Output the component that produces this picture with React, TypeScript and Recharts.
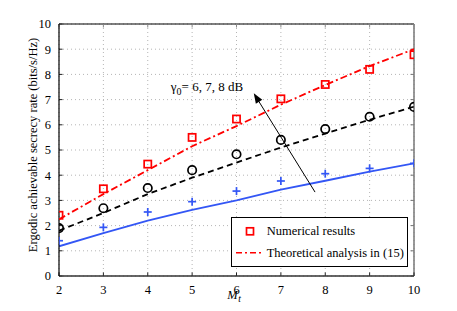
import React from 'react';
import {
  ComposedChart,
  Line,
  XAxis,
  YAxis,
  CartesianGrid,
  Legend,
  ReferenceLine,
  ReferenceDot,
  Customized,
} from 'recharts';

const mtValues = [2, 3, 4, 5, 6, 7, 8, 9, 10];
const numerical8dB = [2.41, 3.46, 4.44, 5.5, 6.23, 7.03, 7.6, 8.2, 8.78];
const theory8dB = [2.25, 3.25, 4.2, 5.15, 5.95, 6.8, 7.58, 8.33, 9.0];
const numerical7dB = [1.9, 2.69, 3.49, 4.2, 4.83, 5.4, 5.83, 6.32, 6.71];
const theory7dB = [1.8, 2.5, 3.25, 3.9, 4.5, 5.1, 5.65, 6.2, 6.72];
const numerical6dB = [1.4, 1.93, 2.54, 2.95, 3.37, 3.77, 4.06, 4.27, 4.47];
const theory6dB = [1.18, 1.7, 2.2, 2.62, 3.0, 3.43, 3.78, 4.14, 4.47];
const xTicks = [2, 3, 4, 5, 6, 7, 8, 9, 10];
const yTicks = [0, 1, 2, 3, 4, 5, 6, 7, 8, 9, 10];
const arrowSegment = [
  { x: 7.77, y: 3.33 },
  { x: 6.39, y: 7.25 },
];
const annotationAnchor = { x: 4.52, y: 7.5 };

const data = mtValues.map((m, i) => ({
  m,
  n8: numerical8dB[i],
  t8: theory8dB[i],
  n7: numerical7dB[i],
  t7: theory7dB[i],
  n6: numerical6dB[i],
  t6: theory6dB[i],
}));

const FONT = '"Liberation Serif", "Times New Roman", serif';
const RED = '#ff0000';
const BLUE = '#3356f5';
const BLACK = '#000000';
const TICK_LEN = 3.5;

const squareDot = (p: any) => {
  if (p.cx == null || p.cy == null) return <g key={p.index} />;
  return (
    <rect
      key={p.index}
      x={p.cx - 3.6}
      y={p.cy - 3.6}
      width={7.2}
      height={7.2}
      fill="none"
      stroke={RED}
      strokeWidth={1.7}
    />
  );
};

const circleDot = (p: any) => {
  if (p.cx == null || p.cy == null) return <g key={p.index} />;
  return (
    <circle key={p.index} cx={p.cx} cy={p.cy} r={4.2} fill="none" stroke={BLACK} strokeWidth={1.7} />
  );
};

const plusDot = (p: any) => {
  if (p.cx == null || p.cy == null) return <g key={p.index} />;
  const s = 4;
  return (
    <g key={p.index}>
      <line x1={p.cx - s} y1={p.cy} x2={p.cx + s} y2={p.cy} stroke={BLUE} strokeWidth={1.7} />
      <line x1={p.cx} y1={p.cy - s} x2={p.cx} y2={p.cy + s} stroke={BLUE} strokeWidth={1.7} />
    </g>
  );
};

const bad = (p: any) => [p.x1, p.y1, p.x2, p.y2].some((v) => v == null || isNaN(v));

// inward tick marks at both ends of a horizontal reference line (left & right frame)
const yTickShape = (p: any) => {
  if (bad(p)) return <g />;
  const left = Math.min(p.x1, p.x2);
  const right = Math.max(p.x1, p.x2);
  return (
    <g>
      <line x1={left} y1={p.y1} x2={left + TICK_LEN} y2={p.y1} stroke="#222" strokeWidth={1} />
      <line x1={right - TICK_LEN} y1={p.y1} x2={right} y2={p.y1} stroke="#777" strokeWidth={1} />
    </g>
  );
};

// inward tick marks at both ends of a vertical reference line (bottom & top frame)
const xTickShape = (p: any) => {
  if (bad(p)) return <g />;
  const top = Math.min(p.y1, p.y2);
  const bottom = Math.max(p.y1, p.y2);
  return (
    <g>
      <line x1={p.x1} y1={bottom} x2={p.x1} y2={bottom - TICK_LEN} stroke="#222" strokeWidth={1} />
      <line x1={p.x1} y1={top} x2={p.x1} y2={top + TICK_LEN} stroke="#888" strokeWidth={1} />
    </g>
  );
};

const arrowShape = (p: any) => {
  if (bad(p)) return <g />;
  const { x1, y1, x2, y2 } = p;
  const dx = x2 - x1;
  const dy = y2 - y1;
  const len = Math.sqrt(dx * dx + dy * dy) || 1;
  const ux = dx / len;
  const uy = dy / len;
  const hl = 10;
  const hw = 3.8;
  const bx = x2 - ux * hl;
  const by = y2 - uy * hl;
  const pts = `${x2},${y2} ${bx - uy * hw},${by + ux * hw} ${bx + uy * hw},${by - ux * hw}`;
  return (
    <g>
      <line x1={x1} y1={y1} x2={bx + ux * 2} y2={by + uy * 2} stroke="#000" strokeWidth={1} />
      <polygon points={pts} fill="#000" />
    </g>
  );
};

const annotationShape = (p: any) => {
  if (p.cx == null || p.cy == null) return <g />;
  return (
    <text x={p.cx} y={p.cy} dy={4} fontFamily={FONT} fontSize={13} fill="#000">
      <tspan>γ</tspan>
      <tspan fontSize={10} dy={4}>0</tspan>
      <tspan dy={-4}>= 6, 7, 8 dB</tspan>
    </text>
  );
};

const AxisTitles = () => {
  const cx = 33;
  const cy = 145;
  return (
    <g>
      <text
        x={cx}
        y={cy}
        transform={`rotate(-90, ${cx}, ${cy})`}
        textAnchor="middle"
        dominantBaseline="central"
        fontFamily={FONT}
        fontSize={12.5}
        fill="#000"
      >
        Ergodic achievable secrecy rate (bits/s/Hz)
      </text>
      <text x={234} y={298.5} textAnchor="middle" fontFamily={FONT} fontSize={12.5} fontStyle="italic" fill="#000">
        <tspan>M</tspan>
        <tspan fontSize={9.5} dx={0.5} dy={3}>t</tspan>
      </text>
    </g>
  );
};

const LegendBox = () => (
  <svg width={177} height={50} style={{ display: 'block' }}>
    <rect x={0.5} y={0.5} width={176} height={49} fill="#fff" stroke="#000" strokeWidth={1} />
    <rect x={15.5} y={10.8} width={7} height={7} fill="none" stroke={RED} strokeWidth={1.7} />
    <text x={35.7} y={14.3} dominantBaseline="central" fontFamily={FONT} fontSize={12.5} fill="#000">
      Numerical results
    </text>
    <line x1={5} y1={35.7} x2={31.3} y2={35.7} stroke={RED} strokeWidth={1.6} strokeDasharray="6 3 2 3" />
    <text x={35.7} y={35.7} dominantBaseline="central" fontFamily={FONT} fontSize={12.5} fill="#000">
      Theoretical analysis in (15)
    </text>
  </svg>
);

export default function App() {
  return (
    <div style={{ position: 'absolute', left: 0, top: 0, width: 457, height: 311, background: '#fff' }}>
      <ComposedChart
        width={457}
        height={311}
        data={data}
        margin={{ top: 24, right: 43, bottom: 0, left: 0 }}
      >
        <CartesianGrid stroke="#b5b5b5" strokeDasharray="1 3" horizontal vertical />
        <XAxis
          dataKey="m"
          type="number"
          domain={[2, 10]}
          ticks={xTicks}
          allowDataOverflow
          height={35}
          tickLine={false}
          axisLine={{ stroke: '#333', strokeWidth: 1.3 }}
          tick={{ fontFamily: FONT, fontSize: 12.5, fill: '#000' }}
          tickMargin={3}
        />
        <YAxis
          type="number"
          domain={[0, 10]}
          ticks={yTicks}
          allowDataOverflow
          width={59}
          tickLine={false}
          axisLine={{ stroke: '#000', strokeWidth: 1.2 }}
          tick={{ fontFamily: FONT, fontSize: 12.5, fill: '#000' }}
          tickMargin={2}
        />
        <ReferenceLine y={10} stroke="#000" strokeWidth={1.2} />
        <ReferenceLine x={10} stroke="#777" strokeWidth={1.5} />
        {yTicks.map((t) => (
          <ReferenceLine key={`yt${t}`} y={t} shape={yTickShape} />
        ))}
        {xTicks.map((t) => (
          <ReferenceLine key={`xt${t}`} x={t} shape={xTickShape} />
        ))}

        <Line
          type="linear"
          dataKey="t8"
          stroke={RED}
          strokeWidth={1.8}
          strokeDasharray="7 3 2 3"
          dot={false}
          activeDot={false}
          isAnimationActive={false}
        />
        <Line
          type="linear"
          dataKey="t7"
          stroke={BLACK}
          strokeWidth={1.8}
          strokeDasharray="6 4"
          dot={false}
          activeDot={false}
          isAnimationActive={false}
        />
        <Line
          type="linear"
          dataKey="t6"
          stroke={BLUE}
          strokeWidth={1.8}
          dot={false}
          activeDot={false}
          isAnimationActive={false}
        />
        <Line
          dataKey="n8"
          stroke="none"
          strokeWidth={0}
          dot={squareDot}
          activeDot={false}
          isAnimationActive={false}
        />
        <Line
          dataKey="n7"
          stroke="none"
          strokeWidth={0}
          dot={circleDot}
          activeDot={false}
          isAnimationActive={false}
        />
        <Line
          dataKey="n6"
          stroke="none"
          strokeWidth={0}
          dot={plusDot}
          activeDot={false}
          isAnimationActive={false}
        />

        <ReferenceLine segment={arrowSegment} shape={arrowShape} ifOverflow="visible" />
        <ReferenceDot
          x={annotationAnchor.x}
          y={annotationAnchor.y}
          r={0}
          shape={annotationShape}
          ifOverflow="visible"
        />
        <Customized component={AxisTitles} />

        <Legend
          layout="horizontal"
          verticalAlign="middle"
          align="center"
          content={() => <LegendBox />}
          wrapperStyle={{ position: 'absolute', left: 231, top: 217, width: 177, height: 50 }}
        />
      </ComposedChart>
    </div>
  );
}
